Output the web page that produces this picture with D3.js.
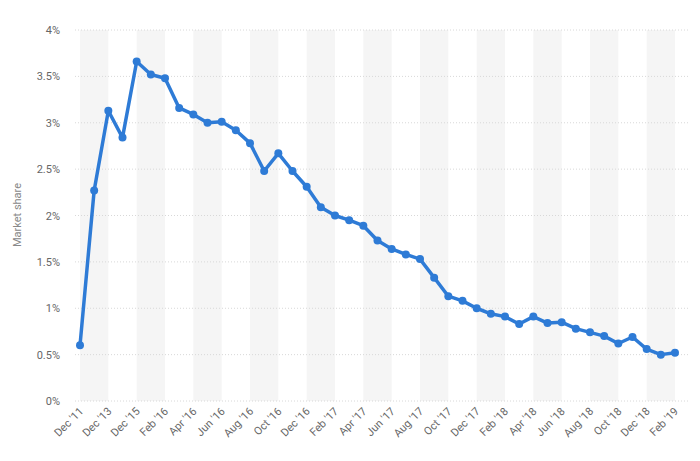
<!DOCTYPE html>
<html><head><meta charset="utf-8">
<script src="https://cdn.jsdelivr.net/npm/d3@7"></script>
<style>body{margin:0;background:#fff}text{font-family:Roboto,Arial,sans-serif}</style>
</head><body><svg id="c" width="700" height="461"></svg>
<script>
var months = ["Jan","Feb","Mar","Apr","May","Jun","Jul","Aug","Sep","Oct","Nov","Dec"]
var categories = ["Dec '11","Dec '12","Dec '13","Dec '14","Dec '15"]
for (var y = 16; y <= 19; y++) {
  for (var m = 0; m < 12; m++) {
    if (y === 19 && m > 1) break
    categories.push(months[m] + " '" + y)
  }
}
var values = [0.6,2.27,3.13,2.84,3.66,3.52,3.48,3.16,3.09,3.0,3.01,2.92,2.78,2.48,2.67,2.48,2.31,2.09,2.0,1.95,1.89,1.73,1.64,1.58,1.53,1.33,1.13,1.08,1.0,0.94,0.91,0.83,0.91,0.84,0.85,0.78,0.74,0.7,0.62,0.69,0.56,0.5,0.52]
var yTicks = [0,0.5,1,1.5,2,2.5,3,3.5,4]

var svg = d3.select("#c")
var x = d3.scalePoint().domain(categories).range([80, 675])
var yS = d3.scaleLinear().domain([0, 4]).range([401, 30])

// alternating bands
var labelIdx = d3.range(0, categories.length, 2)
for (var i = 0; i + 2 < categories.length; i += 4) {
  svg.append("rect").attr("x", x(categories[i])).attr("y", 30)
    .attr("width", x(categories[i + 2]) - x(categories[i])).attr("height", 371)
    .attr("fill", "#f5f5f5")
}

svg.append("g").selectAll("line").data(yTicks).join("line")
  .attr("x1", 75).attr("x2", 690).attr("y1", d => yS(d)).attr("y2", d => yS(d))
  .attr("stroke", "#d8d8d8").attr("stroke-dasharray", "1,2")

svg.append("g").selectAll("text").data(yTicks).join("text")
  .attr("x", 60).attr("y", d => yS(d) + 4).attr("text-anchor", "end")
  .attr("font-size", 11).attr("fill", "#666").text(d => d + "%")

svg.append("text").attr("transform", "translate(21,215) rotate(-90)")
  .attr("text-anchor", "middle").attr("font-size", 11).attr("fill", "#888").text("Market share")

svg.append("g").selectAll("text").data(labelIdx).join("text")
  .attr("transform", d => "translate(" + (x(categories[d]) + 4) + ",412) rotate(-45)")
  .attr("text-anchor", "end").attr("font-size", 11).attr("fill", "#666")
  .text(d => categories[d])

var pts = values.map((v, i) => [x(categories[i]), yS(v)])
svg.append("path").attr("d", d3.line()(pts)).attr("fill", "none")
  .attr("stroke", "#2e7bd6").attr("stroke-width", 3.5).attr("stroke-linejoin", "round")
svg.append("g").selectAll("circle").data(pts).join("circle")
  .attr("cx", d => d[0]).attr("cy", d => d[1]).attr("r", 4).attr("fill", "#2e7bd6")
</script></body></html>
